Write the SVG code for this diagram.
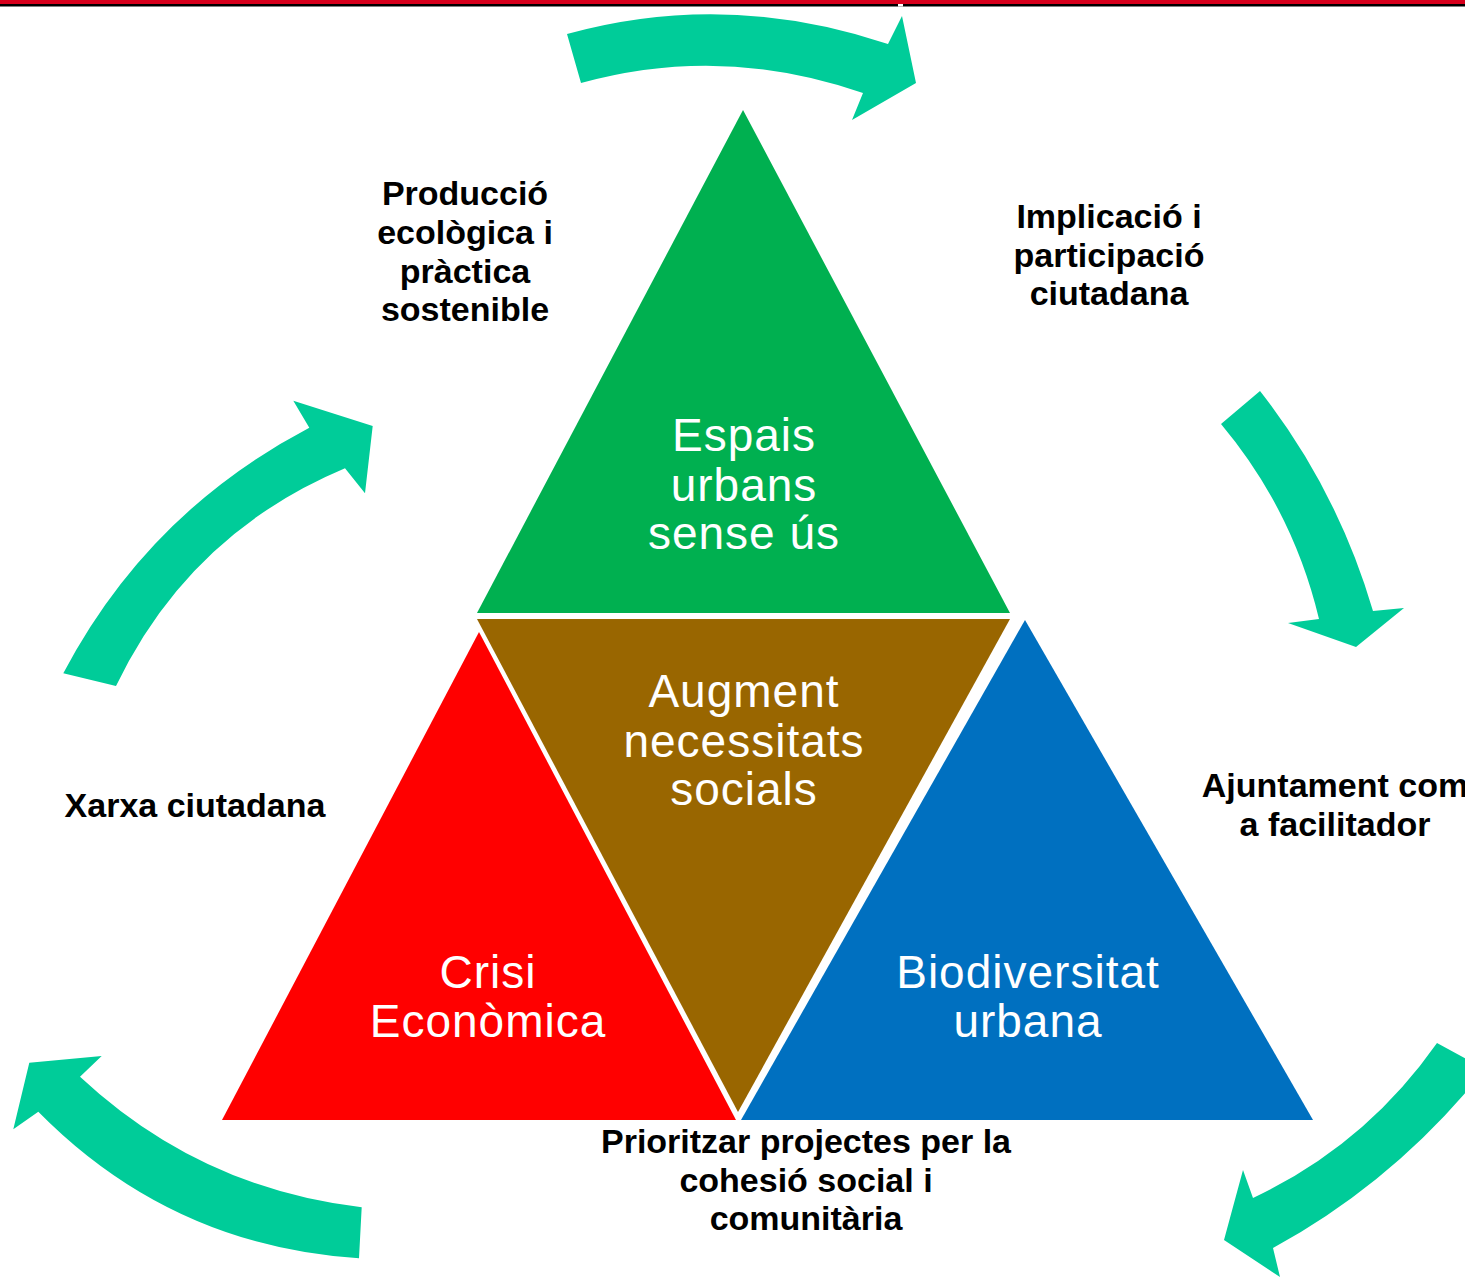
<svg xmlns="http://www.w3.org/2000/svg" width="1465" height="1277" viewBox="0 0 1465 1277">
<style>
.arrow{fill:#00CC99}
.tw{font-family:"Liberation Sans",Arial,sans-serif;font-size:46px;fill:#FFFFFF;text-anchor:middle;letter-spacing:1px}
.lb{font-family:"Liberation Sans",Arial,sans-serif;font-size:34px;font-weight:bold;fill:#000000;text-anchor:middle}
</style>
<rect x="0" y="0" width="1465" height="1277" fill="#FFFFFF"/>
<rect x="0" y="0" width="1465" height="4" fill="#D7001C"/>
<rect x="0" y="4" width="1465" height="2.5" fill="#000000"/>
<rect x="898" y="4" width="5" height="2.5" fill="#FFFFFF"/>

<g id="connectors">
<path class="arrow" d="M567,34 Q726.5,-10 888,44 L902,16 L916,83 L852,120 L863,93 Q722,44 581,83 Z"/>
<path class="arrow" d="M1260,391 Q1337.5,490 1373,611 L1404,608 L1356,647 L1288,623 L1319,619 Q1293,510 1221,424 Z"/>
<path class="arrow" d="M1437,1043 L1485,1069 Q1397,1180 1273,1248 L1280,1277 L1224,1240 L1243,1170 L1253,1198 Q1365.6,1145 1437,1043 Z"/>
<path class="arrow" d="M361.7,1207.3 Q199.5,1188.2 80,1076.7 L101.7,1056 L29.3,1062.7 L13.3,1129.3 L38.3,1111.7 Q170.7,1246 359,1258.3 Z"/>
<path class="arrow" d="M63.3,673.3 Q148.1,512.3 309.3,427.7 L293.3,400.7 L372.7,426 L365,493.3 L345,468.3 Q189,533.8 116,686 Z"/>
</g>

<g id="crisi">
<polygon points="479,632 736,1120 222,1120" fill="#FF0000"/>
<text class="tw" x="488" y="988">Crisi</text>
<text class="tw" x="488" y="1037">Econòmica</text>
</g>
<g id="biodiversitat">
<polygon points="1025,620 1313,1120 741,1120" fill="#0070C0"/>
<text class="tw" x="1028" y="988">Biodiversitat</text>
<text class="tw" x="1028" y="1037">urbana</text>
</g>
<g id="augment">
<polygon points="477,619 1010,619 738,1112" fill="#996600"/>
<text class="tw" x="744" y="707">Augment</text>
<text class="tw" x="744" y="757">necessitats</text>
<text class="tw" x="744" y="805">socials</text>
</g>
<g id="espais">
<polygon points="743,110 1010,613 477,613" fill="#00B050"/>
<text class="tw" x="744" y="451">Espais</text>
<text class="tw" x="744" y="501">urbans</text>
<text class="tw" x="744" y="549">sense ús</text>
</g>

<g id="label-produccio">
<text class="lb" x="465" y="205">Producció</text>
<text class="lb" x="465" y="244">ecològica i</text>
<text class="lb" x="465" y="283">pràctica</text>
<text class="lb" x="465" y="321">sostenible</text>
</g>
<g id="label-implicacio">
<text class="lb" x="1109" y="228">Implicació i</text>
<text class="lb" x="1109" y="267">participació</text>
<text class="lb" x="1109" y="305">ciutadana</text>
</g>
<g id="label-ajuntament">
<text class="lb" x="1335" y="797">Ajuntament com</text>
<text class="lb" x="1335" y="836">a facilitador</text>
</g>
<g id="label-prioritzar">
<text class="lb" x="806" y="1153">Prioritzar projectes per la</text>
<text class="lb" x="806" y="1191.5">cohesió social i</text>
<text class="lb" x="806" y="1230">comunitària</text>
</g>
<g id="label-xarxa">
<text class="lb" x="195" y="817">Xarxa ciutadana</text>
</g>
</svg>
